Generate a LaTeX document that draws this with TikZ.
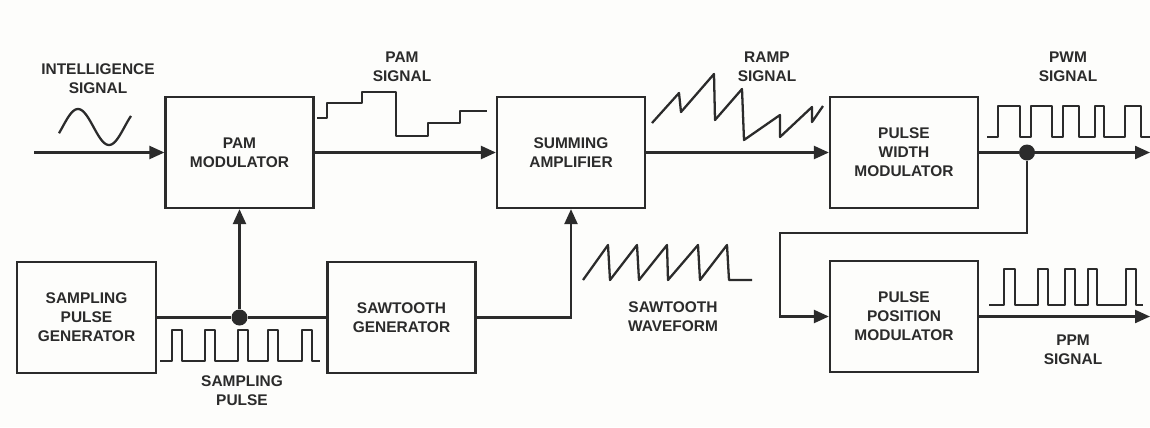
\documentclass[tikz,border=0pt]{standalone}
\usepackage{fontspec}
\setmainfont{Liberation Sans}
\usepackage{xcolor}
\usetikzlibrary{arrows.meta}
\definecolor{ink}{HTML}{2B2B2B}
\definecolor{paper}{HTML}{FDFDFB}
\tikzset{
    lbl/.style={align=center, text=ink, font=\fontsize{8.8pt}{10.8pt}\selectfont\bfseries, inner sep=0pt},
    block/.style={lbl, draw=ink, line width=1.3pt, minimum width=2.96cm, minimum height=2.22cm},
    sig/.style={draw=ink, line width=1.3pt, -{Triangle[length=3mm,width=2.6mm]}},
    wire/.style={draw=ink, line width=1.3pt},
    wave/.style={draw=ink, line width=1.3pt, line join=round},
    dot/.style={circle, fill=ink, inner sep=0pt, minimum size=3.2mm}
}
\begin{document}
\begin{tikzpicture}[x=0.02cm,y=-0.02cm]
            \fill[paper] (0,0) rectangle (1150,427);
            \useasboundingbox (0,0) rectangle (1150,427);
            \node[block] (pam) at (239.5,152.5) {PAM\\MODULATOR};
            \node[block] (summing) at (571,152.5) {SUMMING\\AMPLIFIER};
            \node[block] (pwm) at (904,152.5) {PULSE\\WIDTH\\MODULATOR};
            \node[block, minimum width=2.78cm] (sampling) at (86.5,317.5) {SAMPLING\\PULSE\\GENERATOR};
            \node[block] (sawtooth) at (401.5,317.5) {SAWTOOTH\\GENERATOR};
            \node[block] (ppm) at (904,316.5) {PULSE\\POSITION\\MODULATOR};
            \coordinate (input) at (34,152.5);
            \coordinate (pwmout) at (1150,152.5);
            \coordinate (ppmout) at (1150,316.5);
            \coordinate (back) at (780,233);
            \node[dot] (pwmdot) at (1027,152.5) {};
            \node[dot] (samplingdot) at (239.5,317.5) {};
            \draw[sig] (input) -- (pam.west);
            \draw[sig] (pam.east) -- (summing.west);
            \draw[sig] (summing.east) -- (pwm.west);
            \draw[wire] (pwm.east) -- (pwmdot);
            \draw[sig] (pwmdot) -- (pwmout);
            \draw[sig] (pwmdot) |- (back) |- (ppm.west);
            \draw[sig] (ppm.east) -- (ppmout);
            \draw[wire] (sampling.east) -- (samplingdot);
            \draw[wire] (samplingdot) -- (sawtooth.west);
            \draw[sig] (samplingdot) -- (pam.south);
            \draw[sig] (sawtooth.east) -| (summing.south);
            \draw[wave] plot[domain=59:131,samples=50] (\x,{127-18*cos((\x-78)*180/31)});
            \draw[wave] (317,118) -- (327,118) -- (327,103) -- (362,103) -- (362,92) -- (396,92) -- (396,136) -- (428,136) -- (428,123) -- (460,123) -- (460,111) -- (487,111);
            \draw[wave] (652,123) -- (679,93) -- (681,112) -- (714,74) -- (715,120) -- (742,89) -- (744,140) -- (780,115) -- (780,137) -- (812,107) -- (812,122) -- (823,106);
            \draw[wave] (583,280) \foreach \i/\j in {608/610,637/639,667/668,698/700,727/729} { -- (\i,245) -- (\j,280)} -- (752,280);
            \draw[wave] (987,137) \foreach \i/\j in {998/1020,1031/1052,1063/1079,1095/1104,1125/1141} { -- (\i,137) -- (\i,106) -- (\j,106) -- (\j,137)} -- (1150,137);
            \draw[wave] (989,305) \foreach \i/\j in {1004/1015,1038/1048,1065/1075,1088/1097,1126/1136} { -- (\i,305) -- (\i,269) -- (\j,269) -- (\j,305)} -- (1143,305);
            \draw[wave] (160,361) \foreach \i/\j in {172/182,205/215,238/248,268/278,302/312} { -- (\i,361) -- (\i,330) -- (\j,330) -- (\j,361)} -- (320,361);
            \node[lbl] (intelligencelbl) at (98,79) {INTELLIGENCE\\SIGNAL};
            \node[lbl] (pamlbl) at (402,67) {PAM\\SIGNAL};
            \node[lbl] (ramplbl) at (767,67) {RAMP\\SIGNAL};
            \node[lbl] (pwmlbl) at (1068,67) {PWM\\SIGNAL};
            \node[lbl] (samplinglbl) at (242,391) {SAMPLING\\PULSE};
            \node[lbl] (sawtoothlbl) at (673,317) {SAWTOOTH\\WAVEFORM};
            \node[lbl] (ppmlbl) at (1073,350) {PPM\\SIGNAL};
        \end{tikzpicture}
\end{document}
